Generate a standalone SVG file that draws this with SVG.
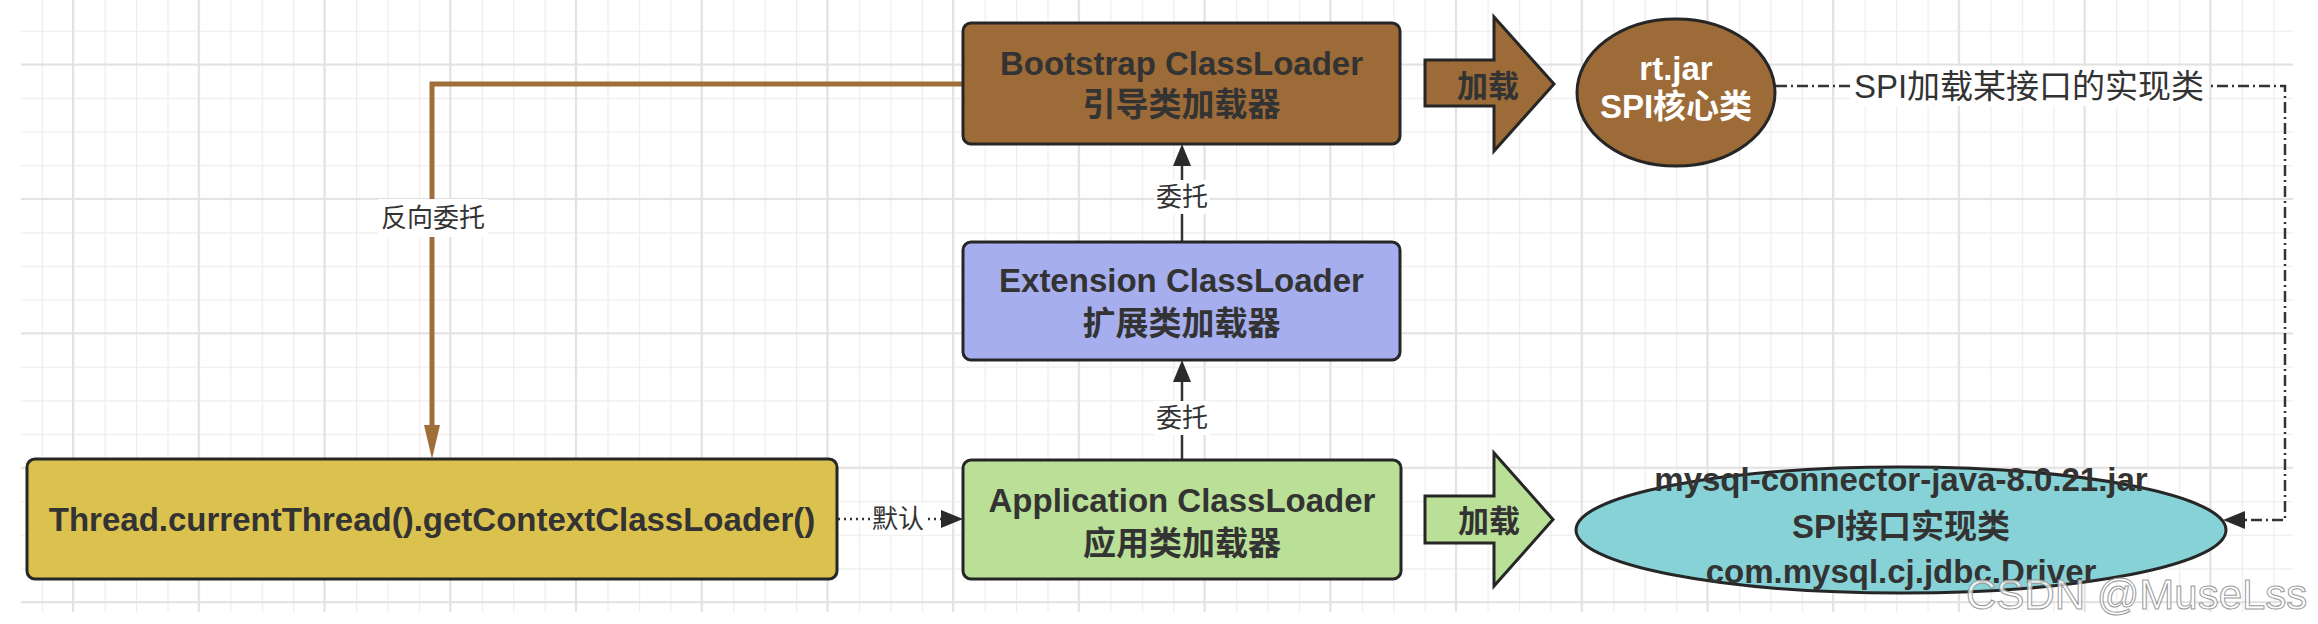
<svg xmlns="http://www.w3.org/2000/svg" width="2318" height="624" viewBox="0 0 2318 624">
<style>
.box{stroke:#262626;stroke-width:3}
.t{font-family:"Liberation Sans",Arial,"Noto Sans CJK SC",sans-serif;fill:#333;text-anchor:middle;dominant-baseline:central}
.b{font-weight:bold;font-size:33px}
.w{fill:#fff}
.lbl{font-size:26px}
.conn{fill:none;stroke:#333;stroke-width:2.5}
</style>
<defs>
<pattern id="gmin" patternUnits="userSpaceOnUse" x="41.7" y="30.7" width="31.43" height="33.6">
<rect x="0" y="0" width="1.2" height="33.6" fill="#ededed"/>
<rect x="0" y="0" width="31.43" height="1.2" fill="#ededed"/>
</pattern>
<pattern id="gmaj" patternUnits="userSpaceOnUse" x="72" y="63.5" width="125.72" height="134.4">
<rect x="0" y="0" width="2" height="134.4" fill="#e2e2e2"/>
<rect x="0" y="0" width="125.72" height="2" fill="#e2e2e2"/>
</pattern>
<marker id="ad" markerUnits="userSpaceOnUse" markerWidth="22" markerHeight="18" refX="0" refY="9" orient="auto">
<path d="M0,0 L22,9 L0,18 z" fill="#2b2b2b"/>
</marker>
<marker id="ab" markerUnits="userSpaceOnUse" markerWidth="34" markerHeight="16" refX="0" refY="8" orient="auto">
<path d="M0,0 L34,8 L0,16 z" fill="#a06e38"/>
</marker>
</defs>
<rect width="2318" height="624" fill="#fff"/>
<rect x="21" y="0" width="2272" height="612" fill="url(#gmin)"/>
<rect x="21" y="0" width="2272" height="612" fill="url(#gmaj)"/>

<g id="connectors">
<polyline class="conn" points="963,84 432,84 432,425" stroke="#a06e38" style="stroke:#a06e38;stroke-width:5" marker-end="url(#ab)"/>
<line class="conn" x1="1182" y1="242" x2="1182" y2="166" marker-end="url(#ad)"/>
<line class="conn" x1="1182" y1="460" x2="1182" y2="382" marker-end="url(#ad)"/>
<line class="conn" x1="838" y1="519" x2="941" y2="519" stroke-dasharray="2 4" marker-end="url(#ad)"/>
<polyline class="conn" points="1776,86 2285,86 2285,520 2245,520" stroke-dasharray="11 4 2 4" marker-end="url(#ad)"/>
<rect x="378" y="199" width="110" height="38" class="w"/>
<text class="t lbl" x="433" y="218">反向委托</text>
<rect x="1154" y="180" width="56" height="34" class="w"/>
<text class="t lbl" x="1182" y="197">委托</text>
<rect x="1154" y="401" width="56" height="34" class="w"/>
<text class="t lbl" x="1182" y="418">委托</text>
<rect x="870" y="503" width="56" height="32" class="w"/>
<text class="t lbl" x="898" y="519">默认</text>
<rect x="1850" y="66" width="358" height="40" class="w"/>
<text class="t" x="2029" y="86" font-size="33">SPI加载某接口的实现类</text>
</g>

<g id="bootstrap">
<rect class="box" x="963" y="23" width="437" height="121" rx="8" fill="#9c6b38"/>
<text class="t b" x="1181.5" y="63">Bootstrap ClassLoader</text>
<text class="t b" x="1181.5" y="104">引导类加载器</text>
</g>
<g id="extension">
<rect class="box" x="963" y="242" width="437" height="118" rx="8" fill="#a6aeee"/>
<text class="t b" x="1181.5" y="280">Extension ClassLoader</text>
<text class="t b" x="1181.5" y="323">扩展类加载器</text>
</g>
<g id="application">
<rect class="box" x="963" y="460" width="438" height="119" rx="8" fill="#badf97"/>
<text class="t b" x="1182" y="500">Application ClassLoader</text>
<text class="t b" x="1182" y="543">应用类加载器</text>
</g>
<g id="thread">
<rect class="box" x="27" y="459" width="810" height="120" rx="8" fill="#dbc24f"/>
<text class="t b" x="432" y="519">Thread.currentThread().getContextClassLoader()</text>
</g>
<g id="load-top">
<polygon class="box" points="1425,60 1494,60 1494,17 1554,84 1494,151 1494,106 1425,106" fill="#9c6b38"/>
<text class="t" x="1488" y="86" font-size="31" font-weight="bold">加载</text>
</g>
<g id="load-bottom">
<polygon class="box" points="1425,496 1494,496 1494,453 1553,519.5 1494,586 1494,543 1425,543" fill="#badf97"/>
<text class="t" x="1489" y="521" font-size="31" font-weight="bold">加载</text>
</g>
<g id="rtjar">
<ellipse class="box" cx="1676" cy="92.5" rx="99" ry="73.5" fill="#9c6b38"/>
<text class="t b" x="1676" y="68" style="fill:#fff">rt.jar</text>
<text class="t b" x="1676" y="106" style="fill:#fff">SPI核心类</text>
</g>
<g id="mysql">
<ellipse class="box" cx="1901" cy="530" rx="325" ry="63" fill="#87d2d6"/>
<text class="t b" x="1901" y="479">mysql-connector-java-8.0.21.jar</text>
<text class="t b" x="1901" y="526">SPI接口实现类</text>
<text class="t b" x="1901" y="571">com.mysql.cj.jdbc.Driver</text>
</g>
<text x="1966" y="609" font-family="'Liberation Sans',Arial,sans-serif" font-size="42" fill="#fff" fill-opacity="0.75" stroke="#9a9a9a" stroke-width="1">CSDN @MuseLss</text>
</svg>
